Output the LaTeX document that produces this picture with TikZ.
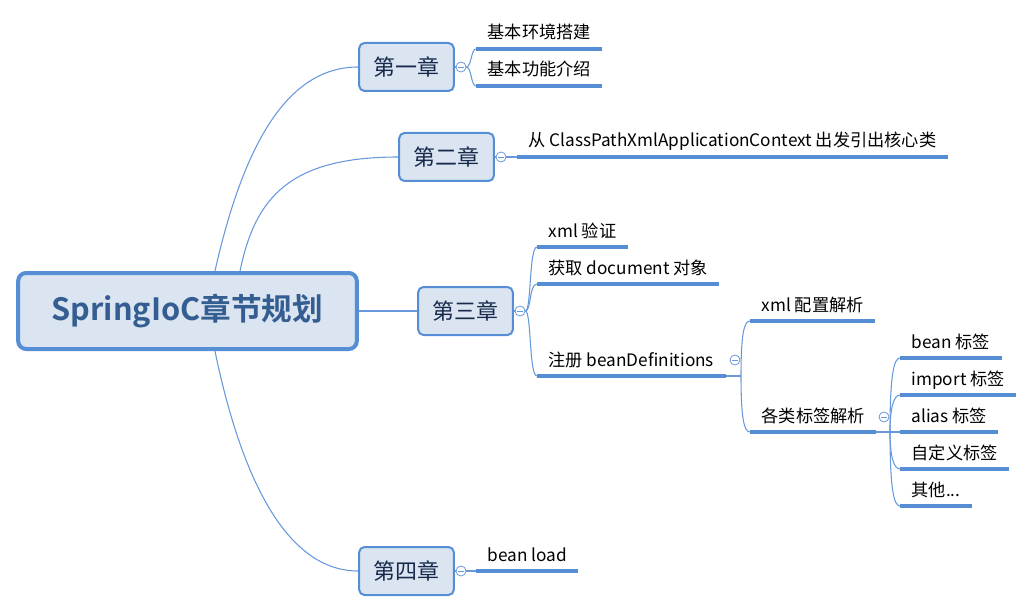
\documentclass[tikz,border=0pt]{standalone}
\usepackage{fontspec}
\setmainfont{Noto Sans CJK SC}[BoldFont={Noto Sans CJK SC Bold}]
\usetikzlibrary{shapes}
\usetikzlibrary{positioning}

\definecolor{mapblue}{RGB}{85,142,213}
\definecolor{linkblue}{RGB}{104,152,220}
\definecolor{mapfill}{RGB}{219,229,241}
\definecolor{roottext}{RGB}{52,94,146}
\definecolor{chaptext}{RGB}{24,42,76}

\tikzset{
  rootbox/.style={draw=mapblue, line width=3pt, fill=mapfill,
    rounded corners=6pt, minimum width=254pt, minimum height=57pt,
    text=roottext, font=\fontsize{23}{26}\selectfont\bfseries},
  chapbox/.style={draw=mapblue, line width=1.5pt, fill=mapfill,
    rounded corners=4pt, minimum width=71pt, minimum height=36pt,
    text=chaptext, font=\fontsize{16.5}{20}\selectfont},
  toggle/.style={circle, draw=linkblue, fill=white, line width=0.6pt,
    minimum size=7.5pt, inner sep=0pt,
    path picture={\draw[linkblue, line width=0.6pt]
      ([xshift=-2pt]path picture bounding box.center) --
      ([xshift=2pt]path picture bounding box.center);}},
  link/.style={draw=linkblue, line width=0.8pt},
  uline/.style={draw=mapblue, line width=2.3pt},
  leaf/.style={anchor=south west, inner xsep=8.5pt, inner ysep=2.5pt,
    text height=10pt, text depth=4.8pt,
    font=\fontsize{12.9}{15}\selectfont,
    append after command={(\tikzlastnode.south west) edge[uline]
      (\tikzlastnode.south east)}}
}

\begin{document}
\begin{tikzpicture}[x=0.75pt, y=-0.75pt]
\useasboundingbox (0,0) rectangle (1035,613);

\node[rootbox] (root) at (187.5,311) {SpringIoC章节规划};
\node[chapbox] (ch1) at (406.5,67) {第一章};
\node[chapbox] (ch2) at (446.5,157) {第二章};
\node[chapbox] (ch3) at (465.5,311) {第三章};
\node[chapbox] (ch4) at (406.5,571) {第四章};

\draw[link] ([xshift=20.6pt]root.north) .. controls +(30,-133) and +(-68,0) .. (ch1.west);
\draw[link] ([xshift=39.4pt]root.north) .. controls +(15,-73) and +(-109,0) .. (ch2.west);
\draw[link] (root.east) -- (ch3.west);
\draw[link] ([xshift=20.6pt]root.south) .. controls +(25,121) and +(-74,0) .. (ch4.west);

\node[toggle] (t1) at (461,67) {};
\node[toggle] (t2) at (501,157) {};
\node[toggle] (t3) at (520,311) {};
\node[toggle] (t4) at (461,571) {};
\draw[link] (ch1.east) -- (t1.west);
\draw[link] (ch2.east) -- (t2.west);
\draw[link] (ch3.east) -- (t3.west);
\draw[link] (ch4.east) -- (t4.west);

% chapter one
\node[leaf] (l11) at (476,49) {基本环境搭建};
\node[leaf] (l12) at (476,86) {基本功能介绍};
\draw[link] (t1.east) .. controls +(5,0) and +(-5,0) .. (l11.south west);
\draw[link] (t1.east) .. controls +(5,0) and +(-5,0) .. (l12.south west);

% chapter two
\node[leaf] (l21) at (517,157) {从 ClassPathXmlApplicationContext 出发引出核心类};
\draw[link] (t2.east) -- (l21.south west);

% chapter three
\node[leaf] (l31) at (537,247) {xml 验证};
\node[leaf] (l32) at (537,284) {获取 document 对象};
\node[leaf] (l33) at (537,376) {注册 beanDefinitions};
\draw[link] (t3.east) .. controls +(6,0) and +(-8,0) .. (l31.south west);
\draw[link] (t3.east) .. controls +(6,0) and +(-8,0) .. (l32.south west);
\draw[link] (t3.east) .. controls +(6,0) and +(-8,0) .. (l33.south west);

\node[toggle] (t33) at (735,360) {};
\coordinate (b33) at (741,376);
\node[leaf] (l331) at (750,321) {xml 配置解析};
\node[leaf] (l332) at (750,432) {各类标签解析};
\draw[link] (l33.south east) -- (b33);
\draw[link] (b33) .. controls +(0,-42) and +(-6,0) .. (l331.south west);
\draw[link] (b33) .. controls +(0,42) and +(-6,0) .. (l332.south west);

\node[toggle] (t332) at (884,417) {};
\coordinate (b332) at (890,432);
\node[leaf] (m1) at (900,358) {bean 标签};
\node[leaf] (m2) at (900,395) {import 标签};
\node[leaf] (m3) at (900,432) {alias 标签};
\node[leaf] (m4) at (900,469) {自定义标签};
\node[leaf] (m5) at (900,506) {其他...};
\draw[link] (l332.south east) -- (b332);
\draw[link] (b332) .. controls +(0,-58) and +(-6,0) .. (m1.south west);
\draw[link] (b332) .. controls +(0,-25) and +(-6,0) .. (m2.south west);
\draw[link] (b332) -- (m3.south west);
\draw[link] (b332) .. controls +(0,25) and +(-6,0) .. (m4.south west);
\draw[link] (b332) .. controls +(0,58) and +(-6,0) .. (m5.south west);

% chapter four
\node[leaf] (l41) at (476,571) {bean load};
\draw[link] (t4.east) -- (l41.south west);
\end{tikzpicture}
\end{document}
